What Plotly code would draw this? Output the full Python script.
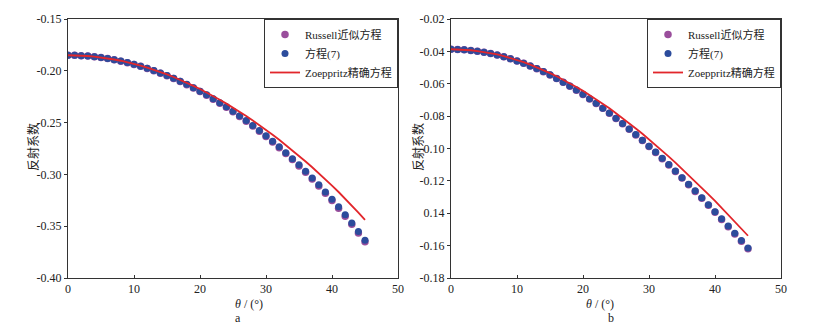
import plotly.graph_objects as go

theta = list(range(0, 46))

# Panel a
russell_a = [-0.1850, -0.1851, -0.1854, -0.1858, -0.1864, -0.1872, -0.1882, -0.1893, -0.1907, -0.1922,
             -0.1938, -0.1957, -0.1977, -0.1999, -0.2023, -0.2048, -0.2075, -0.2104, -0.2134, -0.2167,
             -0.2201, -0.2236, -0.2274, -0.2313, -0.2353, -0.2396, -0.2440, -0.2486, -0.2534, -0.2583,
             -0.2634, -0.2687, -0.2742, -0.2799, -0.2857, -0.2918, -0.2980, -0.3045, -0.3112, -0.3181,
             -0.3252, -0.3326, -0.3403, -0.3482, -0.3565, -0.3650]
eq7_a = [-0.1850, -0.1851, -0.1854, -0.1858, -0.1864, -0.1872, -0.1882, -0.1893, -0.1906, -0.1921,
         -0.1937, -0.1956, -0.1976, -0.1997, -0.2021, -0.2046, -0.2073, -0.2101, -0.2131, -0.2164,
         -0.2197, -0.2232, -0.2270, -0.2308, -0.2348, -0.2391, -0.2434, -0.2480, -0.2527, -0.2576,
         -0.2626, -0.2679, -0.2734, -0.2790, -0.2848, -0.2908, -0.2970, -0.3034, -0.3101, -0.3169,
         -0.3240, -0.3313, -0.3390, -0.3468, -0.3551, -0.3635]
zoep_a = [-0.1850, -0.1851, -0.1853, -0.1857, -0.1863, -0.1871, -0.1880, -0.1891, -0.1903, -0.1917,
          -0.1933, -0.1950, -0.1969, -0.1989, -0.2012, -0.2035, -0.2060, -0.2087, -0.2115, -0.2145,
          -0.2176, -0.2209, -0.2244, -0.2279, -0.2317, -0.2355, -0.2395, -0.2437, -0.2480, -0.2524,
          -0.2570, -0.2617, -0.2666, -0.2716, -0.2767, -0.2820, -0.2875, -0.2931, -0.2988, -0.3047,
          -0.3108, -0.3170, -0.3234, -0.3300, -0.3368, -0.3438]

# Panel b
russell_b = [-0.0387, -0.0388, -0.0390, -0.0394, -0.0399, -0.0405, -0.0413, -0.0422, -0.0433, -0.0445,
             -0.0459, -0.0474, -0.0490, -0.0507, -0.0526, -0.0546, -0.0568, -0.0591, -0.0615, -0.0640,
             -0.0666, -0.0694, -0.0722, -0.0752, -0.0783, -0.0815, -0.0847, -0.0881, -0.0916, -0.0951,
             -0.0988, -0.1025, -0.1064, -0.1102, -0.1142, -0.1183, -0.1224, -0.1265, -0.1308, -0.1351,
             -0.1394, -0.1438, -0.1483, -0.1528, -0.1573, -0.1619]
eq7_b = [-0.0387, -0.0388, -0.0390, -0.0394, -0.0399, -0.0405, -0.0413, -0.0422, -0.0433, -0.0445,
         -0.0459, -0.0474, -0.0490, -0.0506, -0.0525, -0.0545, -0.0567, -0.0590, -0.0614, -0.0639,
         -0.0665, -0.0693, -0.0721, -0.0751, -0.0781, -0.0813, -0.0845, -0.0879, -0.0914, -0.0949,
         -0.0986, -0.1022, -0.1061, -0.1099, -0.1139, -0.1180, -0.1221, -0.1261, -0.1304, -0.1347,
         -0.1390, -0.1434, -0.1479, -0.1523, -0.1568, -0.1614]
zoep_b = [-0.0387, -0.0388, -0.0390, -0.0393, -0.0398, -0.0404, -0.0411, -0.0419, -0.0429, -0.0441,
          -0.0453, -0.0467, -0.0482, -0.0498, -0.0515, -0.0534, -0.0554, -0.0575, -0.0597, -0.0620,
          -0.0644, -0.0670, -0.0696, -0.0724, -0.0752, -0.0782, -0.0812, -0.0844, -0.0876, -0.0909,
          -0.0943, -0.0978, -0.1013, -0.1050, -0.1087, -0.1125, -0.1163, -0.1203, -0.1243, -0.1283,
          -0.1324, -0.1366, -0.1408, -0.1451, -0.1495, -0.1539]

x_ticks = [0, 10, 20, 30, 40, 50]
y_ticks_a = [-0.15, -0.20, -0.25, -0.30, -0.35, -0.40]
y_ticktext_a = ["-0.15", "-0.20", "-0.25", "-0.30", "-0.35", "-0.40"]
y_ticks_b = [-0.02, -0.04, -0.06, -0.08, -0.10, -0.12, -0.14, -0.16, -0.18]
y_ticktext_b = ["-0.02", "-0.04", "-0.06", "-0.08", "-0.10", "-0.12", "0.14", "-0.16", "-0.18"]

names = ["Russell近似方程", "方程(7)", "Zoeppritz精确方程"]
x_title = "<i>θ</i> / (°)"
y_title = "反射系数"
panel_labels = ["a", "b"]

PURPLE = "#9A4E9C"
BLUE = "#2C4C9C"
RED = "#E2262B"
FONT = "Liberation Serif, Noto Sans CJK SC"
TXT = "#222"

fig = go.Figure()

panels = [
    ("x", "y", "legend", russell_a, eq7_a, zoep_a),
    ("x2", "y2", "legend2", russell_b, eq7_b, zoep_b),
]
for xa, ya, lg, r, e, z in panels:
    fig.add_trace(go.Scatter(x=theta, y=r, mode="markers", name=names[0], xaxis=xa, yaxis=ya,
                             legend=lg, marker=dict(color=PURPLE, size=7.5)))
    fig.add_trace(go.Scatter(x=theta, y=e, mode="markers", name=names[1], xaxis=xa, yaxis=ya,
                             legend=lg, marker=dict(color=BLUE, size=7)))
    fig.add_trace(go.Scatter(x=theta, y=z, mode="lines", name=names[2], xaxis=xa, yaxis=ya,
                             legend=lg, line=dict(color=RED, width=1.8)))

# The page body adds an 8 px offset; the figure is sized and positioned to compensate.
OFF = 8
W = 829 - OFF
H = 328 - OFF


def px(xs):
    return (xs - OFF) / W


def py(ys):
    return (H - (ys - OFF)) / H


y0 = py(278)
y1 = py(19)
dom_a = [px(68), px(398)]
dom_b = [px(451), px(781)]

common_x = dict(range=[0, 50], tickvals=x_ticks, ticks="inside", ticklen=3, tickcolor="#333",
                showline=True, linecolor="#333", linewidth=1, mirror=True, showgrid=False,
                zeroline=False, automargin=False, tickfont=dict(size=12, color=TXT))
common_y = dict(ticks="outside", ticklen=3, tickcolor="#333", showline=True, linecolor="#333",
                linewidth=1, mirror=True, showgrid=False, zeroline=False, automargin=False,
                tickfont=dict(size=12, color=TXT))

leg_common = dict(bordercolor="#333", borderwidth=1, bgcolor="white",
                  font=dict(size=11, family=FONT, color=TXT), xanchor="right", yanchor="top",
                  tracegroupgap=0, itemwidth=30)

annotations = []
for dom, lab, ytx in [(dom_a, panel_labels[0], 33), (dom_b, panel_labels[1], 418)]:
    cx = (dom[0] + dom[1]) / 2
    annotations.append(dict(text=x_title, x=cx, y=py(304), xref="paper", yref="paper",
                            showarrow=False, font=dict(size=12, color=TXT), yanchor="middle"))
    annotations.append(dict(text=lab, x=cx, y=py(318), xref="paper", yref="paper",
                            showarrow=False, font=dict(size=12, color=TXT), yanchor="middle"))
    annotations.append(dict(text=y_title, x=px(ytx), y=py(147), xref="paper", yref="paper",
                            showarrow=False, textangle=-90, font=dict(size=12, color=TXT),
                            xanchor="center", yanchor="middle"))

fig.update_layout(
    width=W, height=H,
    margin=dict(l=0, r=0, t=0, b=0, autoexpand=False),
    paper_bgcolor="white", plot_bgcolor="white",
    font=dict(family=FONT, size=12, color=TXT),
    xaxis=dict(domain=dom_a, anchor="y", **common_x),
    yaxis=dict(domain=[y0, y1], anchor="x", range=[-0.40, -0.15], tickvals=y_ticks_a,
               ticktext=y_ticktext_a, **common_y),
    xaxis2=dict(domain=dom_b, anchor="y2", **common_x),
    yaxis2=dict(domain=[y0, y1], anchor="x2", range=[-0.18, -0.02], tickvals=y_ticks_b,
                ticktext=y_ticktext_b, **common_y),
    legend=dict(x=dom_a[1], y=y1, **leg_common),
    legend2=dict(x=dom_b[1], y=y1, **leg_common),
    annotations=annotations,
)

fig.write_html("out.html")
